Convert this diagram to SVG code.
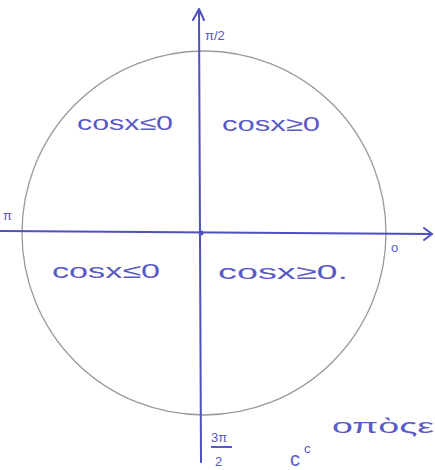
<svg xmlns="http://www.w3.org/2000/svg" width="435" height="470" viewBox="0 0 435 470">
<style>
.ax{stroke:#4f4fc0;stroke-width:2;fill:none;stroke-linecap:round;stroke-linejoin:round}
.t{fill:#5a5ac6;font-family:"Liberation Sans",Arial,sans-serif;font-size:20px}
.s{fill:#5656c4;font-family:"Liberation Sans",Arial,sans-serif;font-size:13px}
</style>
<rect width="435" height="470" fill="#fff"/>
<g id="circle"><circle cx="204" cy="233" r="182" fill="none" stroke="#9a9a9a" stroke-width="1.3"/></g>
<g id="axes">
<path class="ax" d="M199 10 L201 462"/>
<path class="ax" d="M193 20 L199 9 L204 20"/>
<path class="ax" d="M0 231 L432 234"/>
<path class="ax" d="M424 228 L432 234 L424 240"/>
<circle cx="201" cy="233" r="2.5" fill="#4f4fc0"/>
</g>
<g id="labels">
<text class="s" x="205" y="40">π/2</text>
<text class="s" x="3" y="220" font-size="15">π</text>
<text class="s" x="391" y="252" font-size="12">o</text>
<text class="s" x="211" y="442">3π</text>
<line x1="211" y1="447" x2="232" y2="447" stroke="#5656c4" stroke-width="2"/>
<text class="s" x="215" y="466">2</text>
</g>
<g id="q1"><text class="t" x="222" y="131" textLength="98" lengthAdjust="spacingAndGlyphs">cosx≥0</text></g>
<g id="q2"><text class="t" x="77" y="130" textLength="96" lengthAdjust="spacingAndGlyphs">cosx≤0</text></g>
<g id="q3"><text class="t" x="52" y="278" textLength="108" lengthAdjust="spacingAndGlyphs">cosx≤0</text></g>
<g id="q4"><text class="t" x="218" y="279" textLength="130" lengthAdjust="spacingAndGlyphs">cosx≥0.</text></g>
<g id="note">
<text class="t" x="332" y="433" textLength="102" lengthAdjust="spacingAndGlyphs">οπὸςε</text>
<text class="t" x="290" y="466" font-size="24">ϲ</text>
<text class="s" x="304" y="453">c</text>
</g>
</svg>
